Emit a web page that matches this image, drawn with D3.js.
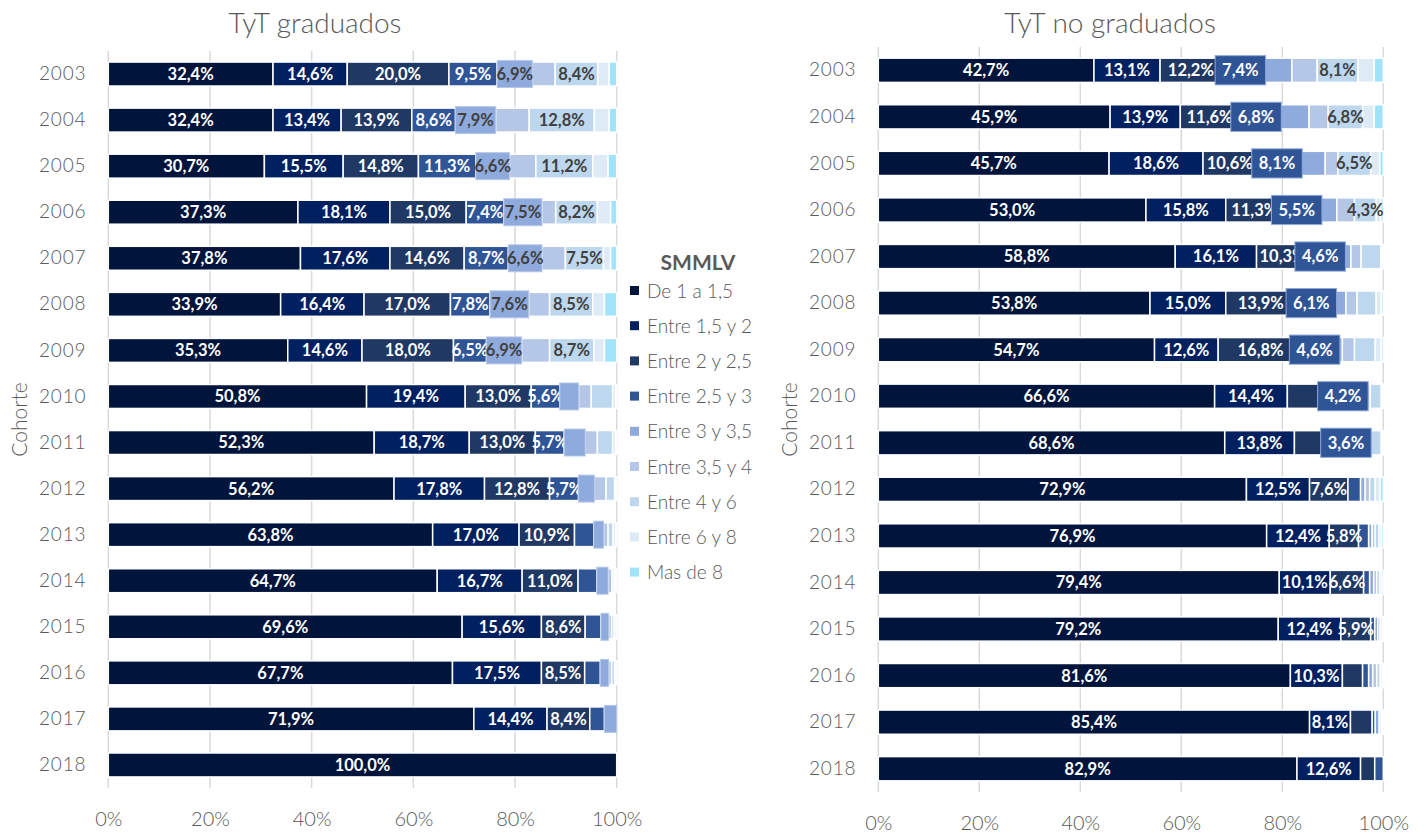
<!DOCTYPE html>
<html>
<head>
<meta charset="utf-8">
<script src="https://cdn.jsdelivr.net/npm/d3@7"></script>
<style>
  body { margin: 0; background: #fff; }
  text { font-family: Lato, "Open Sans", sans-serif; }
</style>
</head>
<body>
<svg id="chart" width="1426" height="833"></svg>
<script>
// cohorts (rows) and salary ranges (stacked series)
const years = [2003, 2004, 2005, 2006, 2007, 2008, 2009, 2010, 2011, 2012, 2013, 2014, 2015, 2016, 2017, 2018];
const ranges = ["De 1 a 1,5", "Entre 1,5 y 2", "Entre 2 y 2,5", "Entre 2,5 y 3", "Entre 3 y 3,5",
                "Entre 3,5 y 4", "Entre 4 y 6", "Entre 6 y 8", "Mas de 8"];

// % per cohort, one value per range (same order as ranges)
const graduados = [
  [32.4, 14.6, 20.0, 9.5, 6.9, 4.5, 8.4, 2.2, 1.5],
  [32.4, 13.4, 13.9, 8.6, 7.9, 6.6, 12.8, 2.9, 1.5],
  [30.7, 15.5, 14.8, 11.3, 6.6, 5.2, 11.2, 3.0, 1.7],
  [37.3, 18.1, 15.0, 7.4, 7.5, 2.7, 8.2, 2.6, 1.2],
  [37.8, 17.6, 14.6, 8.7, 6.6, 4.6, 7.5, 1.4, 1.2],
  [33.9, 16.4, 17.0, 7.8, 7.6, 4.1, 8.5, 2.3, 2.4],
  [35.3, 14.6, 18.0, 6.5, 6.9, 5.5, 8.7, 2.1, 2.4],
  [50.8, 19.4, 13.0, 5.6, 3.7, 2.5, 4.2, 0.6, 0.2],
  [52.3, 18.7, 13.0, 5.7, 4.1, 2.4, 3.0, 0.6, 0.2],
  [56.2, 17.8, 12.8, 5.7, 3.1, 2.3, 1.7, 0.3, 0.1],
  [63.8, 17.0, 10.9, 3.8, 1.9, 0.9, 1.0, 0.5, 0.2],
  [64.7, 16.7, 11.0, 3.7, 2.2, 0.8, 0.4, 0.3, 0.2],
  [69.6, 15.6, 8.6, 3.1, 1.5, 0.6, 0.5, 0.4, 0.1],
  [67.7, 17.5, 8.5, 3.1, 1.6, 0.6, 0.6, 0.3, 0.1],
  [71.9, 14.4, 8.4, 2.9, 2.4, 0, 0, 0, 0],
  [100.0, 0, 0, 0, 0, 0, 0, 0, 0]
];

const noGraduados = [
  [42.7, 13.1, 12.2, 7.4, 6.5, 5.0, 8.1, 3.2, 1.8],
  [45.9, 13.9, 11.6, 6.8, 7.1, 3.8, 6.8, 2.3, 1.8],
  [45.7, 18.6, 10.6, 8.1, 5.5, 2.5, 6.5, 1.8, 0.7],
  [53.0, 15.8, 11.3, 5.5, 5.2, 3.5, 4.3, 0.9, 0.5],
  [58.8, 16.1, 10.3, 4.6, 3.8, 2.0, 3.9, 0.3, 0.2],
  [53.8, 15.0, 13.9, 6.1, 3.8, 2.2, 3.8, 1.0, 0.4],
  [54.7, 12.6, 16.8, 4.6, 3.2, 2.4, 4.1, 1.2, 0.4],
  [66.6, 14.4, 8.9, 4.2, 1.8, 1.5, 2.2, 0.3, 0.1],
  [68.6, 13.8, 8.4, 3.6, 1.5, 1.2, 2.5, 0.3, 0.1],
  [72.9, 12.5, 7.6, 2.5, 0.9, 0.9, 1.1, 1.0, 0.6],
  [76.9, 12.4, 5.8, 2.0, 0.7, 0.6, 0.7, 0.5, 0.4],
  [79.4, 10.1, 6.6, 1.2, 0.8, 0.6, 0.6, 0.4, 0.3],
  [79.2, 12.4, 5.9, 0.8, 0.6, 0.5, 0.4, 0.1, 0.1],
  [81.6, 10.3, 4.0, 1.2, 0.8, 0.8, 0.7, 0.4, 0.2],
  [85.4, 8.1, 4.3, 0.6, 0.8, 0.4, 0.3, 0.1, 0],
  [82.9, 12.6, 2.8, 1.7, 0, 0, 0, 0, 0]
];

const xTicks = [0, 0.2, 0.4, 0.6, 0.8, 1];

const colors = ["#00143c", "#002060", "#203864", "#2f5597", "#8faadc",
                "#b4c7e7", "#bdd7ee", "#deebf7", "#a0e4fb"];
const grey = "#595959";

const svg = d3.select("#chart");
const pct = d => d3.format(".1f")(d * 100).replace(".", ",") + "%";

function drawPanel(opt) {
  const table = years.map((yr, i) => {
    const row = { year: yr };
    ranges.forEach((r, j) => row[r] = opt.values[i][j] / 100);
    return row;
  });
  const stacked = d3.stack().keys(ranges)(table);

  const x = d3.scaleLinear().domain([0, 1]).range([opt.left, opt.right]);
  const y = d3.scaleBand().domain(years).range([opt.top, opt.bottom])
    .paddingInner(0.48).paddingOuter(0.24);

  const g = svg.append("g");

  // vertical gridlines
  g.selectAll(".grid").data(xTicks).join("line")
    .attr("x1", d => x(d)).attr("x2", d => x(d))
    .attr("y1", opt.top).attr("y2", opt.bottom)
    .attr("stroke", "#d9d9d9").attr("stroke-width", 1.5);

  // axes
  const xa = g.append("g").attr("transform", `translate(0,${opt.bottom})`)
    .call(d3.axisBottom(x).tickValues(xTicks).tickFormat(d3.format(".0%")).tickSize(0).tickPadding(24));
  xa.select(".domain").remove();
  xa.selectAll("text").attr("fill", grey).style("font-size", "20px").style("font-weight", 300);

  const ya = g.append("g").attr("transform", `translate(${opt.left},0)`)
    .call(d3.axisLeft(y).tickSize(0).tickPadding(22));
  ya.select(".domain").remove();
  ya.selectAll("text").attr("fill", grey).style("font-size", "19px").style("font-weight", 300)
    .attr("letter-spacing", "0.8px");

  // stacked segments
  const layers = g.selectAll(".layer").data(stacked).join("g")
    .attr("fill", (d, j) => colors[j]);
  layers.selectAll("rect").data(d => d.filter(p => p[1] - p[0] > 0)).join("rect")
    .attr("x", p => x(p[0]))
    .attr("y", p => y(p.data.year))
    .attr("width", p => x(p[1]) - x(p[0]))
    .attr("height", y.bandwidth())
    .attr("stroke", "#fff").attr("stroke-width", 1.5);

  // data labels (boxed series is drawn later, on top)
  const labelColor = j => j <= 3 ? "#fff" : "#404040";
  const bj = opt.boxSeries;
  const addLabel = (sel, p, j) => sel.append("text")
    .attr("x", (x(p[0]) + x(p[1])) / 2)
    .attr("y", y(p.data.year) + y.bandwidth() / 2).attr("dy", "0.36em")
    .attr("text-anchor", "middle")
    .attr("fill", labelColor(j))
    .style("font-size", "16.5px").style("font-weight", "bold")
    .text(pct(p[1] - p[0]));

  const lg = g.append("g");
  stacked.forEach((layer, j) => {
    layer.filter(p => p[1] - p[0] > 0 && opt.showLabel(j, p.data.year))
      .filter(p => !(j === bj && opt.boxRow(p.data.year)))
      .forEach(p => addLabel(lg, p, j));
  });

  // highlighted label boxes
  const bg = g.append("g");
  stacked[bj].filter(p => p[1] - p[0] > 0 && opt.boxRow(p.data.year)).forEach(p => {
    const x0 = x(p[0]), x1 = x(p[1]);
    const cx = (x0 + x1) / 2;
    const box = bg.append("rect");
    let w = x1 - x0;
    if (opt.showLabel(bj, p.data.year)) {
      const t = addLabel(bg, p, bj);
      if (opt.boxWide) w = Math.max(w, t.node().getComputedTextLength() + 14);
    }
    box.attr("x", cx - w / 2).attr("width", w)
      .attr("y", y(p.data.year) - opt.boxPad).attr("height", y.bandwidth() + 2 * opt.boxPad)
      .attr("fill", colors[bj]).attr("stroke", opt.boxStroke).attr("stroke-width", 1);
  });

  // title and axis title
  g.append("text").attr("x", opt.titleX).attr("y", 33)
    .attr("text-anchor", "middle").attr("fill", grey)
    .style("font-size", "28px").style("font-weight", 300).text(opt.title);
  g.append("text")
    .attr("transform", `translate(${opt.cohorteX},${(opt.top + opt.bottom) / 2}) rotate(-90)`)
    .attr("text-anchor", "middle").attr("fill", grey)
    .style("font-size", "21px").style("font-weight", 300).text("Cohorte");
}

drawPanel({
  values: graduados, title: "TyT graduados", titleX: 315, cohorteX: 27,
  left: 108.3, right: 616.7, top: 51, bottom: 788,
  showLabel: (j, yr) => j <= 2 || (j === 3 && yr <= 2012) || ((j === 4 || j === 6) && yr <= 2009),
  boxSeries: 4, boxRow: yr => true, boxWide: false, boxPad: 1.5, boxStroke: "#b4c7e7"
});

drawPanel({
  values: noGraduados, title: "TyT no graduados", titleX: 1110, cohorteX: 797,
  left: 878.3, right: 1383.3, top: 47, bottom: 792,
  showLabel: (j, yr) => j <= 1 || (j === 2 && (yr <= 2009 || (yr >= 2012 && yr <= 2015)))
    || (j === 3 && yr <= 2011) || (j === 6 && yr <= 2006),
  boxSeries: 3, boxRow: yr => yr <= 2011, boxWide: true, boxPad: 2.5, boxStroke: "#8faadc"
});

// legend
const legend = svg.append("g").attr("transform", "translate(630,0)");
legend.append("text").attr("x", 68).attr("y", 270)
  .attr("text-anchor", "middle").attr("fill", grey)
  .style("font-size", "21px").style("font-weight", "bold").text("SMMLV");
const items = legend.selectAll(".item").data(ranges).join("g")
  .attr("transform", (d, i) => `translate(0,${291 + i * 35.2})`);
items.append("rect").attr("x", 0).attr("y", -5).attr("width", 9).attr("height", 9)
  .attr("fill", (d, i) => colors[i]);
items.append("text").attr("x", 17).attr("y", 0).attr("dy", "0.35em")
  .attr("fill", grey).style("font-size", "19px").style("font-weight", 300).text(d => d);
</script>
</body>
</html>
